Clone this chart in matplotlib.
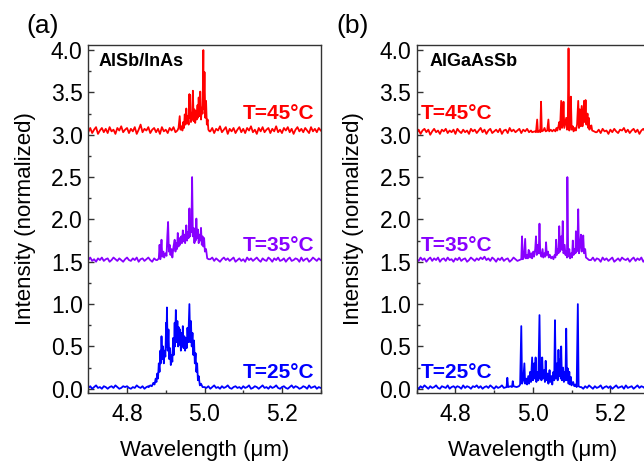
import numpy as np
import matplotlib
matplotlib.use('Agg')
import matplotlib.pyplot as plt
from matplotlib.ticker import MultipleLocator

plt.rcParams['font.family'] = ['Liberation Sans', 'DejaVu Sans']

# ---- data (intensity relative to each trace's offset) ----
wl_grid = np.round(np.linspace(4.70, 5.30, 121), 3)   # baseline samples, 0.005 um apart
offsets = [0.0, 1.5, 3.0]
temps = ['T=25°C', 'T=35°C', 'T=45°C']
colors = ['#0000ff', '#8800ff', '#ff0000']

# panel (a) AlSb/InAs
a25_base = [0.01, 0.03, 0.00, 0.02, 0.04, 0.01, 0.02, 0.00, 0.03, 0.02,
            0.00, 0.02, 0.03, 0.01, 0.04, 0.02, 0.00, 0.01, 0.03, 0.02,
            0.03, 0.01, 0.00, 0.02, 0.01, 0.04, 0.02, 0.01, 0.03, 0.00,
            0.02, 0.03, 0.05, 0.10, 0.20, 0.30, 0.40, 0.40, 0.40, 0.40,
            0.40, 0.40, 0.40, 0.40, 0.40, 0.40, 0.40, 0.40, 0.40, 0.40,
            0.40, 0.40, 0.40, 0.40, 0.40, 0.40, 0.30, 0.20, 0.10, 0.05,
            0.02, 0.01, 0.03, 0.00, 0.02, 0.04, 0.01, 0.02, 0.00, 0.03,
            0.01, 0.02, 0.04, 0.01, 0.00, 0.02, 0.03, 0.01, 0.02, 0.00,
            0.03, 0.01, 0.02, 0.04, 0.00, 0.01, 0.03, 0.02, 0.00, 0.02,
            0.04, 0.01, 0.02, 0.00, 0.03, 0.01, 0.02, 0.04, 0.01, 0.00,
            0.02, 0.03, 0.01, 0.00, 0.02, 0.04, 0.01, 0.03, 0.02, 0.00,
            0.01, 0.03, 0.02, 0.00, 0.04, 0.01, 0.02, 0.03, 0.00, 0.02,
            0.01]
a25_wl = [4.856, 4.860, 4.864, 4.868, 4.871, 4.874, 4.876, 4.878, 4.880, 4.882,
          4.884, 4.886, 4.887, 4.889, 4.891, 4.893, 4.895, 4.897, 4.899, 4.901,
          4.902, 4.903, 4.905, 4.907, 4.909, 4.911, 4.913, 4.915, 4.917, 4.919,
          4.921, 4.923, 4.924, 4.926, 4.928, 4.930, 4.932, 4.933, 4.935, 4.937,
          4.939, 4.941, 4.943, 4.944, 4.946, 4.948, 4.950, 4.952, 4.954, 4.956,
          4.958, 4.960, 4.961, 4.963, 4.965, 4.967, 4.969, 4.971, 4.973, 4.975,
          4.977, 4.979, 4.981, 4.983, 4.985, 4.988, 4.991, 4.995]
a25_I = [0.02, 0.04, 0.03, 0.07, 0.05, 0.12, 0.08, 0.18, 0.12, 0.30,
         0.20, 0.45, 0.30, 0.62, 0.35, 0.50, 0.30, 0.45, 0.38, 0.78,
         0.50, 0.96, 0.45, 0.70, 0.35, 0.48, 0.28, 0.40, 0.32, 0.60,
         0.40, 0.78, 0.50, 0.93, 0.55, 0.80, 0.50, 0.73, 0.52, 0.70,
         0.45, 0.66, 0.50, 0.74, 0.48, 0.62, 0.45, 0.60, 0.48, 0.72,
         0.55, 0.88, 1.00, 0.55, 0.80, 0.50, 0.66, 0.40, 0.57, 0.30,
         0.42, 0.20, 0.30, 0.10, 0.15, 0.04, 0.06, 0.02]

a35_base = [0.02, 0.05, 0.01, 0.03, 0.00, 0.04, 0.02, 0.05, 0.01, 0.03,
            0.04, 0.00, 0.02, 0.05, 0.03, 0.01, 0.04, 0.02, 0.00, 0.03,
            0.05, 0.02, 0.01, 0.04, 0.02, 0.05, 0.00, 0.03, 0.04, 0.01,
            0.03, 0.05, 0.02, 0.00, 0.04, 0.02, 0.10, 0.10, 0.10, 0.10,
            0.20, 0.20, 0.20, 0.20, 0.20, 0.20, 0.20, 0.20, 0.20, 0.20,
            0.20, 0.20, 0.20, 0.20, 0.20, 0.20, 0.20, 0.20, 0.20, 0.20,
            0.10, 0.10, 0.10, 0.03, 0.05, 0.01, 0.04, 0.02, 0.00, 0.03,
            0.05, 0.02, 0.04, 0.01, 0.03, 0.05, 0.00, 0.02, 0.04, 0.01,
            0.03, 0.00, 0.05, 0.02, 0.04, 0.01, 0.03, 0.05, 0.02, 0.00,
            0.04, 0.02, 0.01, 0.05, 0.03, 0.00, 0.04, 0.02, 0.05, 0.01,
            0.02, 0.04, 0.00, 0.03, 0.05, 0.01, 0.02, 0.04, 0.03, 0.00,
            0.05, 0.01, 0.03, 0.04, 0.00, 0.02, 0.05, 0.03, 0.01, 0.04,
            0.02]
a35_wl = [4.878, 4.882, 4.884, 4.886, 4.889, 4.891, 4.894, 4.896, 4.899, 4.902,
          4.904, 4.906, 4.908, 4.910, 4.912, 4.915, 4.917, 4.920, 4.923, 4.925,
          4.927, 4.929, 4.931, 4.933, 4.935, 4.937, 4.940, 4.942, 4.944, 4.946,
          4.948, 4.950, 4.953, 4.955, 4.957, 4.959, 4.961, 4.963, 4.965, 4.966,
          4.968, 4.970, 4.972, 4.974, 4.976, 4.977, 4.979, 4.981, 4.983, 4.985,
          4.987, 4.989, 4.991, 4.993, 4.995, 4.997, 4.999, 5.001, 5.004, 5.007,
          5.011]
a35_I = [0.02, 0.04, 0.20, 0.03, 0.26, 0.06, 0.12, 0.05, 0.10, 0.07,
         0.30, 0.47, 0.12, 0.20, 0.08, 0.15, 0.05, 0.18, 0.26, 0.12,
         0.22, 0.15, 0.34, 0.18, 0.28, 0.20, 0.30, 0.22, 0.37, 0.24,
         0.32, 0.22, 0.43, 0.25, 0.35, 0.28, 0.63, 0.30, 0.45, 0.35,
         1.00, 0.30, 0.40, 0.22, 0.35, 0.25, 0.51, 0.28, 0.38, 0.22,
         0.32, 0.25, 0.40, 0.20, 0.30, 0.18, 0.28, 0.12, 0.15, 0.04,
         0.03]

a45_base = [0.03, 0.08, 0.02, 0.06, 0.09, 0.01, 0.05, 0.08, 0.03, 0.07,
            0.02, 0.09, 0.04, 0.06, 0.01, 0.08, 0.05, 0.10, 0.03, 0.06,
            0.08, 0.02, 0.07, 0.04, 0.09, 0.01, 0.06, 0.12, 0.03, 0.07,
            0.05, 0.09, 0.02, 0.06, 0.08, 0.03, 0.07, 0.01, 0.09, 0.04,
            0.06, 0.02, 0.08, 0.05, 0.09, 0.03, 0.10, 0.10, 0.10, 0.10,
            0.10, 0.10, 0.10, 0.10, 0.10, 0.10, 0.10, 0.10, 0.10, 0.10,
            0.10, 0.10, 0.10, 0.04, 0.08, 0.02, 0.07, 0.05, 0.10, 0.03,
            0.06, 0.09, 0.01, 0.07, 0.04, 0.08, 0.02, 0.06, 0.09, 0.03,
            0.07, 0.02, 0.08, 0.05, 0.10, 0.03, 0.06, 0.01, 0.08, 0.04,
            0.09, 0.03, 0.06, 0.08, 0.02, 0.07, 0.04, 0.10, 0.03, 0.06,
            0.02, 0.08, 0.05, 0.09, 0.03, 0.07, 0.01, 0.06, 0.09, 0.04,
            0.07, 0.03, 0.08, 0.05, 0.02, 0.09, 0.04, 0.07, 0.03, 0.08,
            0.05]
a45_wl = [4.930, 4.933, 4.936, 4.938, 4.941, 4.943, 4.945, 4.947, 4.949, 4.951,
          4.953, 4.955, 4.957, 4.959, 4.961, 4.962, 4.963, 4.965, 4.967, 4.969,
          4.970, 4.972, 4.974, 4.976, 4.978, 4.980, 4.982, 4.983, 4.985, 4.987,
          4.989, 4.991, 4.993, 4.995, 4.997, 4.998, 5.000, 5.002, 5.004, 5.006,
          5.008, 5.010, 5.013]
a45_I = [0.05, 0.08, 0.22, 0.06, 0.10, 0.05, 0.15, 0.08, 0.24, 0.12,
         0.31, 0.14, 0.22, 0.12, 0.48, 0.20, 0.47, 0.15, 0.26, 0.18,
         0.52, 0.16, 0.30, 0.14, 0.28, 0.18, 0.35, 0.20, 0.44, 0.22,
         0.51, 0.18, 0.32, 0.25, 1.00, 0.30, 0.74, 0.20, 0.40, 0.12,
         0.18, 0.06, 0.04]

# panel (b) AlGaAsSb
b25_base = [0.02, 0.00, 0.03, 0.01, 0.04, 0.02, 0.00, 0.03, 0.01, 0.02,
            0.04, 0.01, 0.00, 0.03, 0.02, 0.01, 0.04, 0.00, 0.02, 0.03,
            0.01, 0.03, 0.02, 0.00, 0.04, 0.01, 0.03, 0.02, 0.00, 0.03,
            0.02, 0.04, 0.01, 0.03, 0.00, 0.02, 0.03, 0.01, 0.04, 0.02,
            0.00, 0.03, 0.01, 0.02, 0.04, 0.10, 0.10, 0.10, 0.10, 0.10,
            0.10, 0.10, 0.10, 0.10, 0.10, 0.10, 0.10, 0.10, 0.10, 0.10,
            0.10, 0.10, 0.10, 0.10, 0.10, 0.10, 0.10, 0.10, 0.10, 0.10,
            0.10, 0.10, 0.10, 0.10, 0.10, 0.10, 0.10, 0.10, 0.10, 0.10,
            0.10, 0.10, 0.10, 0.10, 0.10, 0.02, 0.00, 0.03, 0.01, 0.04,
            0.02, 0.00, 0.03, 0.01, 0.02, 0.04, 0.00, 0.02, 0.03, 0.01,
            0.03, 0.00, 0.02, 0.04, 0.01, 0.02, 0.03, 0.00, 0.04, 0.01,
            0.02, 0.03, 0.00, 0.02, 0.04, 0.01, 0.03, 0.02, 0.00, 0.03,
            0.01]
b25_wl = [4.925, 4.932, 4.934, 4.936, 4.942, 4.946, 4.948, 4.950, 4.958, 4.964,
          4.967, 4.970, 4.972, 4.975, 4.978, 4.980, 4.983, 4.985, 4.988, 4.990,
          4.993, 4.995, 4.998, 5.000, 5.003, 5.005, 5.007, 5.009, 5.012, 5.014,
          5.017, 5.019, 5.021, 5.022, 5.024, 5.026, 5.029, 5.031, 5.033, 5.035,
          5.038, 5.040, 5.043, 5.045, 5.048, 5.050, 5.053, 5.055, 5.057, 5.059,
          5.062, 5.064, 5.066, 5.068, 5.071, 5.072, 5.073, 5.075, 5.078, 5.080,
          5.083, 5.084, 5.086, 5.088, 5.090, 5.092, 5.094, 5.096, 5.098, 5.100,
          5.104, 5.107, 5.110, 5.113, 5.116, 5.118, 5.122]
b25_I = [0.01, 0.02, 0.13, 0.02, 0.03, 0.02, 0.09, 0.03, 0.02, 0.03,
         0.05, 0.74, 0.06, 0.10, 0.30, 0.06, 0.12, 0.05, 0.15, 0.06,
         0.20, 0.08, 0.37, 0.10, 0.30, 0.12, 0.37, 0.08, 0.20, 0.10,
         0.87, 0.12, 0.25, 0.10, 0.37, 0.12, 0.22, 0.08, 0.33, 0.10,
         0.18, 0.06, 0.22, 0.08, 0.15, 0.05, 0.20, 0.10, 0.81, 0.12,
         0.30, 0.10, 0.46, 0.15, 0.35, 0.12, 0.50, 0.10, 0.25, 0.08,
         0.20, 0.10, 0.71, 0.10, 0.24, 0.06, 0.20, 0.05, 0.14, 0.04,
         0.08, 0.03, 0.05, 0.02, 1.00, 0.03, 0.02]

b35_base = [0.03, 0.01, 0.05, 0.02, 0.04, 0.00, 0.03, 0.05, 0.01, 0.04,
            0.02, 0.05, 0.00, 0.03, 0.04, 0.01, 0.05, 0.02, 0.03, 0.00,
            0.04, 0.02, 0.05, 0.01, 0.03, 0.04, 0.00, 0.02, 0.05, 0.03,
            0.01, 0.04, 0.02, 0.05, 0.03, 0.06, 0.02, 0.04, 0.01, 0.05,
            0.03, 0.00, 0.04, 0.02, 0.05, 0.01, 0.03, 0.04, 0.00, 0.02,
            0.05, 0.03, 0.01, 0.10, 0.10, 0.10, 0.10, 0.10, 0.10, 0.10,
            0.10, 0.10, 0.10, 0.10, 0.10, 0.10, 0.10, 0.10, 0.10, 0.10,
            0.10, 0.10, 0.10, 0.10, 0.10, 0.10, 0.10, 0.10, 0.10, 0.10,
            0.10, 0.10, 0.10, 0.10, 0.10, 0.10, 0.10, 0.10, 0.10, 0.10,
            0.02, 0.05, 0.01, 0.04, 0.03, 0.00, 0.05, 0.02, 0.04, 0.01,
            0.03, 0.05, 0.00, 0.02, 0.04, 0.01, 0.05, 0.03, 0.02, 0.04,
            0.00, 0.03, 0.05, 0.01, 0.04, 0.02, 0.05, 0.00, 0.03, 0.04,
            0.02]
b35_wl = [4.965, 4.970, 4.972, 4.974, 4.977, 4.980, 4.982, 4.985, 4.987, 4.989,
          4.991, 4.993, 4.996, 4.998, 5.001, 5.003, 5.006, 5.008, 5.010, 5.013,
          5.015, 5.017, 5.019, 5.022, 5.025, 5.027, 5.030, 5.032, 5.034, 5.036,
          5.039, 5.041, 5.044, 5.047, 5.050, 5.053, 5.056, 5.058, 5.060, 5.062,
          5.065, 5.066, 5.068, 5.070, 5.073, 5.075, 5.077, 5.079, 5.082, 5.084,
          5.086, 5.088, 5.089, 5.091, 5.094, 5.096, 5.099, 5.101, 5.103, 5.105,
          5.108, 5.110, 5.111, 5.113, 5.115, 5.117, 5.119, 5.122, 5.124, 5.126,
          5.128, 5.130, 5.132, 5.135, 5.137, 5.140, 5.145]
b35_I = [0.02, 0.03, 0.30, 0.03, 0.05, 0.27, 0.04, 0.08, 0.04, 0.14,
         0.12, 0.05, 0.10, 0.04, 0.12, 0.06, 0.15, 0.30, 0.08, 0.20,
         0.10, 0.45, 0.10, 0.06, 0.15, 0.05, 0.10, 0.06, 0.23, 0.08,
         0.12, 0.05, 0.08, 0.04, 0.06, 0.03, 0.08, 0.05, 0.26, 0.08,
         0.15, 0.10, 0.42, 0.12, 0.30, 0.14, 0.48, 0.10, 0.20, 0.08,
         0.12, 0.05, 1.00, 0.06, 0.15, 0.04, 0.10, 0.05, 0.25, 0.08,
         0.15, 0.10, 0.36, 0.12, 0.20, 0.62, 0.10, 0.20, 0.32, 0.12,
         0.20, 0.31, 0.10, 0.15, 0.05, 0.04, 0.02]

b45_base = [0.02, 0.06, 0.01, 0.05, 0.07, 0.03, 0.06, 0.00, 0.04, 0.07,
            0.03, 0.05, 0.01, 0.06, 0.04, 0.07, 0.02, 0.05, 0.03, 0.06,
            0.01, 0.07, 0.04, 0.02, 0.06, 0.03, 0.05, 0.01, 0.07, 0.04,
            0.06, 0.02, 0.05, 0.08, 0.03, 0.06, 0.01, 0.05, 0.07, 0.02,
            0.04, 0.06, 0.03, 0.07, 0.01, 0.05, 0.06, 0.02, 0.08, 0.04,
            0.06, 0.03, 0.05, 0.07, 0.02, 0.06, 0.04, 0.07, 0.03, 0.05,
            0.10, 0.10, 0.10, 0.10, 0.10, 0.10, 0.10, 0.10, 0.10, 0.10,
            0.10, 0.10, 0.10, 0.10, 0.10, 0.10, 0.10, 0.10, 0.10, 0.10,
            0.10, 0.10, 0.10, 0.10, 0.10, 0.10, 0.10, 0.10, 0.10, 0.10,
            0.10, 0.10, 0.10, 0.03, 0.06, 0.02, 0.07, 0.04, 0.05, 0.01,
            0.06, 0.03, 0.07, 0.04, 0.02, 0.06, 0.05, 0.08, 0.03, 0.06,
            0.02, 0.05, 0.07, 0.03, 0.06, 0.01, 0.05, 0.07, 0.04, 0.06,
            0.03]
b45_wl = [4.998, 5.005, 5.008, 5.011, 5.013, 5.017, 5.019, 5.021, 5.023, 5.027,
          5.030, 5.033, 5.037, 5.040, 5.042, 5.046, 5.050, 5.054, 5.058, 5.061,
          5.063, 5.066, 5.068, 5.070, 5.073, 5.075, 5.077, 5.079, 5.081, 5.084,
          5.086, 5.088, 5.090, 5.092, 5.094, 5.096, 5.098, 5.100, 5.103, 5.105,
          5.108, 5.111, 5.114, 5.117, 5.119, 5.121, 5.123, 5.126, 5.128, 5.130,
          5.132, 5.134, 5.136, 5.138, 5.141, 5.143, 5.144, 5.146, 5.148, 5.151,
          5.153, 5.158, 5.162]
b45_I = [0.03, 0.04, 0.03, 0.18, 0.03, 0.05, 0.03, 0.39, 0.04, 0.05,
         0.08, 0.04, 0.05, 0.18, 0.04, 0.06, 0.04, 0.06, 0.04, 0.08,
         0.05, 0.10, 0.15, 0.06, 0.40, 0.08, 0.12, 0.39, 0.08, 0.15,
         0.20, 0.06, 0.10, 1.02, 0.05, 0.15, 0.45, 0.06, 0.10, 0.04,
         0.08, 0.05, 0.12, 0.40, 0.08, 0.30, 0.10, 0.34, 0.10, 0.20,
         0.40, 0.15, 0.41, 0.12, 0.25, 0.08, 0.20, 0.06, 0.10, 0.11,
         0.05, 0.04, 0.03]

panels = [
    {'tag': '(a)', 'tag_x': -0.196, 'name': 'AlSb/InAs',
     'series': [(a25_base, a25_wl, a25_I), (a35_base, a35_wl, a35_I), (a45_base, a45_wl, a45_I)]},
    {'tag': '(b)', 'tag_x': -0.278, 'name': 'AlGaAsSb',
     'series': [(b25_base, b25_wl, b25_I), (b35_base, b35_wl, b35_I), (b45_base, b45_wl, b45_I)]},
]


def join_trace(base, reg_wl, reg_I):
    # baseline samples outside the lasing window + the lasing window itself
    base = np.asarray(base)
    lo = wl_grid < reg_wl[0]
    hi = wl_grid > reg_wl[-1]
    wl = np.concatenate([wl_grid[lo], reg_wl, wl_grid[hi]])
    it = np.concatenate([base[lo], reg_I, base[hi]])
    return wl, it


fig = plt.figure(figsize=(6.44, 4.62), dpi=100)
W, H = 644, 462
ax_a = fig.add_axes([88.3 / W, 69 / H, 232.4 / W, 348 / H])
ax_b = fig.add_axes([416.7 / W, 69 / H, 232.4 / W, 348 / H])

for ax, p in zip([ax_a, ax_b], panels):
    for (base, rw, ri), off, col in zip(p['series'], offsets, colors):
        wl, it = join_trace(base, rw, ri)
        ax.plot(wl, it + off, color=col, lw=1.3)
    ax.set_xlim(4.7, 5.3)
    ax.set_ylim(-0.05, 4.06)
    ax.xaxis.set_major_locator(MultipleLocator(0.2))
    ax.xaxis.set_minor_locator(MultipleLocator(0.1))
    ax.yaxis.set_major_locator(MultipleLocator(0.5))
    ax.yaxis.set_minor_locator(MultipleLocator(0.25))
    ax.xaxis.set_major_formatter(plt.FormatStrFormatter('%.1f'))
    ax.yaxis.set_major_formatter(plt.FormatStrFormatter('%.1f'))
    ax.tick_params(which='both', direction='in', labelsize=16.5, width=1, color='#333333')
    ax.tick_params(which='major', length=4)
    ax.tick_params(which='minor', length=2.5)
    ax.tick_params(axis='x', pad=7.5)
    ax.tick_params(axis='y', pad=4)
    for s in ax.spines.values():
        s.set_color('#333333')
        s.set_linewidth(1.0)
    ax.set_xlabel('Wavelength (μm)', fontsize=16, labelpad=10)
    ax.set_ylabel('Intensity (normalized)', fontsize=16, labelpad=11)
    ax.text(p['tag_x'], 1.055, p['tag'], transform=ax.transAxes, fontsize=19,
            ha='center', va='center')

ax_a.text(4.726, 3.87, 'AlSb/InAs', fontsize=13, fontweight='bold', va='center', ha='left')
ax_b.text(4.734, 3.86, 'AlGaAsSb', fontsize=13, fontweight='bold', va='center', ha='left')

lab_y = [0.19, 1.69, 3.25]
for t, y, col in zip(temps, lab_y, colors):
    ax_a.text(5.283, y, t, color=col, fontsize=15, fontweight='bold', ha='right', va='center')
    ax_b.text(4.710, y, t, color=col, fontsize=15, fontweight='bold', ha='left', va='center')

fig.savefig('out.png', dpi=100)
